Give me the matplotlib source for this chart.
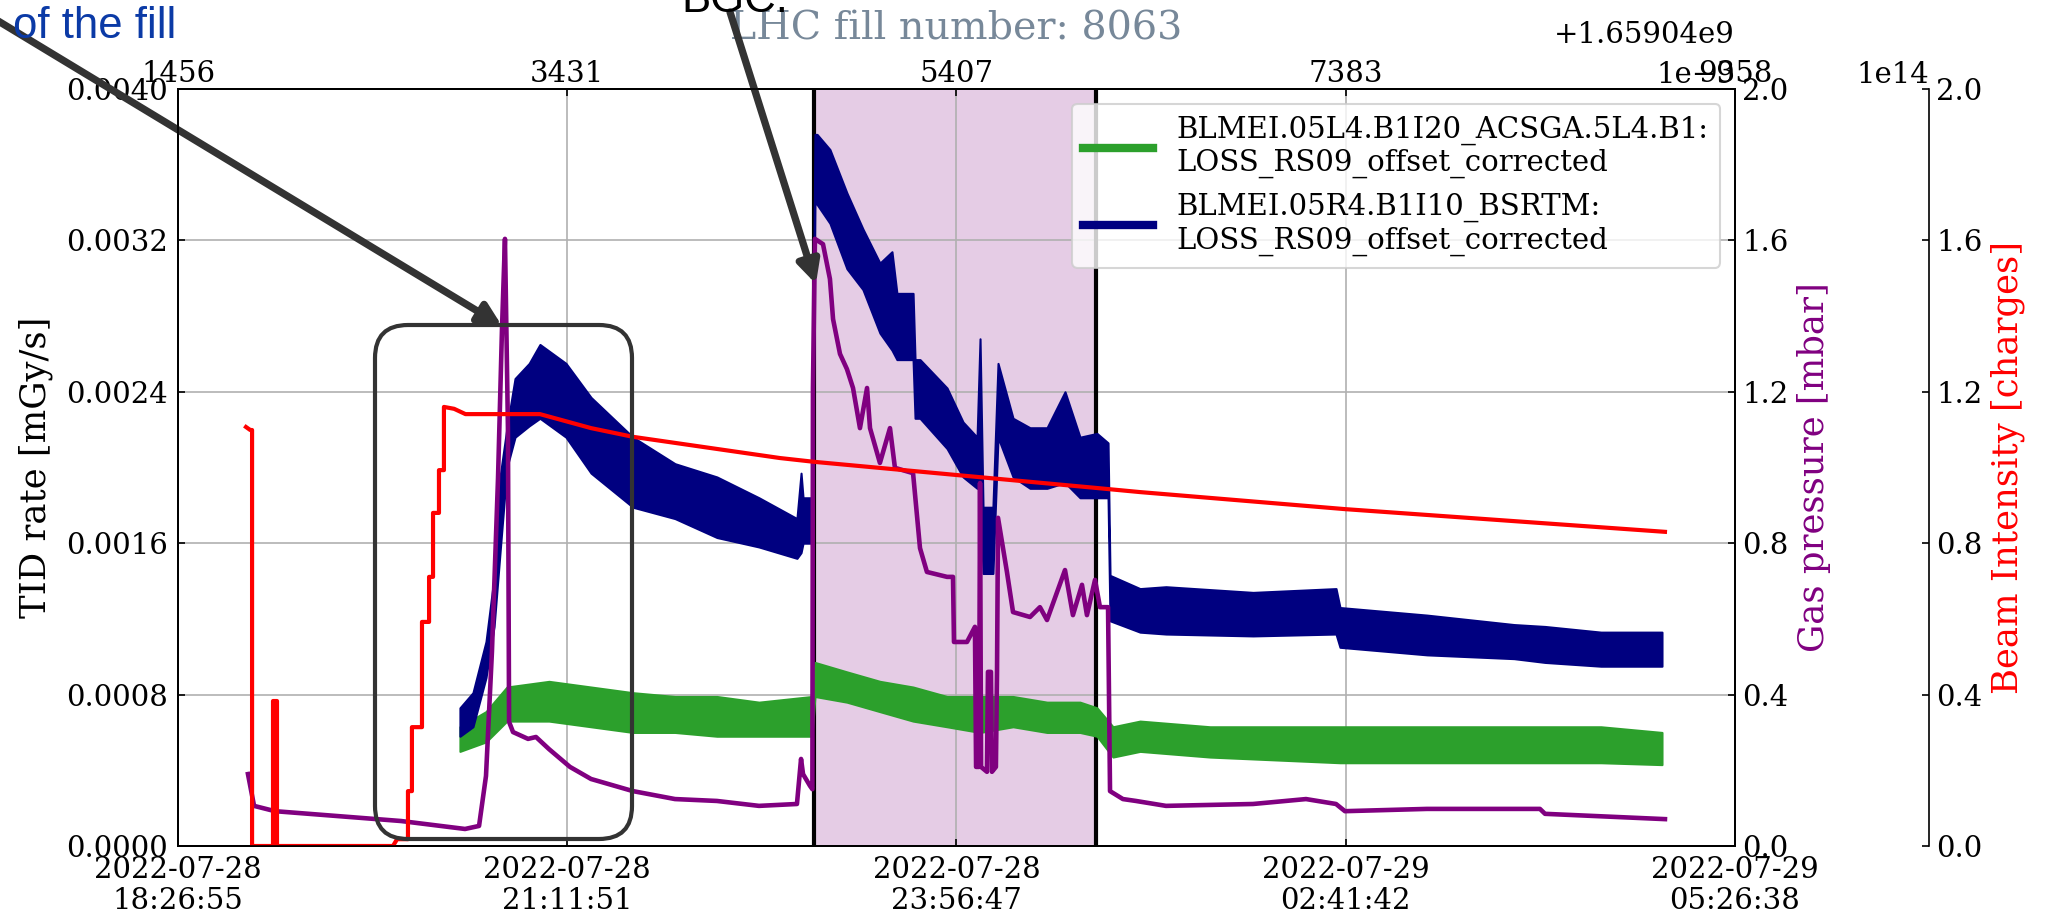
import numpy as np
import matplotlib.pyplot as plt
from matplotlib.lines import Line2D
from matplotlib.patches import FancyBboxPatch
from matplotlib.ticker import ScalarFormatter, FormatStrFormatter

plt.rcParams['font.family'] = 'DejaVu Serif'
plt.rcParams['font.size'] = 14

# time axis in hours after 2022-07-28 18:26:55
t_end = 10.9953
time_labels = ['2022-07-28\n18:26:55', '2022-07-28\n21:11:51', '2022-07-28\n23:56:47',
               '2022-07-29\n02:41:42', '2022-07-29\n05:26:38']
unix_ticks = [1659041456, 1659043431, 1659045407, 1659047383, 1659049358]
unix_offset = 1659040000
stable_start, stable_end = 4.491, 6.483

# BLM 05R4 (BSRTM) - band of the noisy signal, mGy/s
blue_t = [1.991, 2.083, 2.175, 2.232, 2.274, 2.323, 2.380, 2.480, 2.556, 2.740, 2.917, 3.213,
          3.510, 3.806, 4.103, 4.371, 4.400, 4.414, 4.477, 4.498, 4.513, 4.604, 4.724, 4.837,
          4.957, 5.042, 5.077, 5.191, 5.205, 5.240, 5.431, 5.544, 5.643, 5.664, 5.685, 5.755,
          5.791, 5.897, 6.017, 6.137, 6.264, 6.370, 6.490, 6.568, 6.582, 6.794, 6.977, 7.592,
          8.178, 8.206, 8.820, 9.435, 9.654, 10.049, 10.480]
blue_lo = [0.00058, 0.00063, 0.00089, 0.00116, 0.00155, 0.00200, 0.00216, 0.00222, 0.00226,
           0.00216, 0.00197, 0.00179, 0.00173, 0.00163, 0.00158, 0.00152, 0.00155, 0.00160,
           0.00160, 0.00340, 0.00339, 0.00329, 0.00305, 0.00294, 0.00271, 0.00262, 0.00257,
           0.00257, 0.00226, 0.00226, 0.00210, 0.00195, 0.00189, 0.00189, 0.00144, 0.00144,
           0.00216, 0.00195, 0.00189, 0.00189, 0.00192, 0.00184, 0.00184, 0.00184, 0.00119,
           0.00113, 0.00112, 0.00111, 0.00112, 0.00105, 0.00101, 0.00099, 0.00097, 0.00095,
           0.00095]
blue_hi = [0.00073, 0.00081, 0.00108, 0.00142, 0.00195, 0.00221, 0.00247, 0.00255, 0.00265,
           0.00255, 0.00237, 0.00216, 0.00202, 0.00195, 0.00184, 0.00173, 0.00197, 0.00184,
           0.00184, 0.00376, 0.00376, 0.00368, 0.00345, 0.00326, 0.00308, 0.00314, 0.00292,
           0.00292, 0.00257, 0.00257, 0.00242, 0.00224, 0.00216, 0.00268, 0.00179, 0.00179,
           0.00255, 0.00226, 0.00221, 0.00221, 0.00240, 0.00216, 0.00218, 0.00213, 0.00143,
           0.00136, 0.00137, 0.00134, 0.00136, 0.00126, 0.00122, 0.00117, 0.00116, 0.00113,
           0.00113]

# BLM 05L4 (ACSGA)
green_t = [1.991, 2.175, 2.323, 2.620, 2.917, 3.213, 3.510, 3.806, 4.103, 4.477, 4.498, 4.724,
           4.957, 5.191, 5.431, 5.664, 5.897, 6.137, 6.370, 6.490, 6.603, 6.794, 7.288, 8.206,
           10.049, 10.480]
green_lo = [0.00050, 0.00055, 0.00066, 0.00066, 0.00063, 0.00060, 0.00060, 0.00058, 0.00058,
            0.00058, 0.00079, 0.00076, 0.00071, 0.00066, 0.00063, 0.00060, 0.00063, 0.00060,
            0.00060, 0.00058, 0.00047, 0.00050, 0.00047, 0.00044, 0.00044, 0.00043]
green_hi = [0.00063, 0.00071, 0.00084, 0.00087, 0.00084, 0.00081, 0.00079, 0.00079, 0.00076,
            0.00079, 0.00097, 0.00092, 0.00087, 0.00084, 0.00079, 0.00079, 0.00079, 0.00076,
            0.00076, 0.00073, 0.00063, 0.00066, 0.00063, 0.00063, 0.00063, 0.00060]

# gas pressure, 1e-9 mbar
gas_t = [0.494, 0.537, 0.685, 1.130, 1.575, 2.027, 2.126, 2.175, 2.217, 2.260, 2.288, 2.309,
         2.330, 2.338, 2.366, 2.472, 2.528, 2.620, 2.768, 2.917, 3.213, 3.510, 3.806, 4.103,
         4.371, 4.400, 4.414, 4.463, 4.480, 4.484, 4.498, 4.555, 4.604, 4.626, 4.675, 4.724,
         4.767, 4.816, 4.866, 4.887, 4.957, 5.028, 5.063, 5.191, 5.240, 5.289, 5.431, 5.473,
         5.480, 5.572, 5.628, 5.636, 5.657, 5.664, 5.671, 5.713, 5.720, 5.741, 5.748, 5.776,
         5.784, 5.791, 5.854, 5.897, 6.017, 6.087, 6.137, 6.264, 6.320, 6.384, 6.419, 6.476,
         6.511, 6.568, 6.582, 6.673, 6.765, 6.977, 7.592, 7.966, 8.178, 8.241, 8.820, 9.618,
         9.654, 10.501]
gas_p = [0.190, 0.106, 0.092, 0.079, 0.066, 0.045, 0.053, 0.185, 0.513, 0.972, 1.366, 1.604,
         1.104, 0.328, 0.301, 0.283, 0.288, 0.256, 0.209, 0.177, 0.145, 0.124, 0.119, 0.106,
         0.111, 0.230, 0.190, 0.159, 0.150, 1.210, 1.604, 1.590, 1.498, 1.392, 1.300, 1.260,
         1.210, 1.104, 1.210, 1.104, 1.012, 1.104, 0.999, 0.985, 0.787, 0.724, 0.711, 0.711,
         0.539, 0.539, 0.579, 0.209, 0.209, 0.959, 0.209, 0.196, 0.460, 0.460, 0.196, 0.209,
         0.460, 0.867, 0.724, 0.618, 0.605, 0.631, 0.597, 0.729, 0.610, 0.690, 0.610, 0.703,
         0.631, 0.631, 0.145, 0.124, 0.119, 0.106, 0.111, 0.124, 0.111, 0.092, 0.098, 0.098,
         0.085, 0.071]

# beam intensity, 1e14 charges
beam_t = [0.480, 0.510, 0.523, 0.523, 0.671, 0.671, 0.699, 0.699, 1.518, 1.547, 1.624, 1.624,
          1.652, 1.652, 1.723, 1.723, 1.773, 1.773, 1.801, 1.801, 1.843, 1.843, 1.878, 1.878,
          1.950, 2.030, 2.556, 2.917, 3.213, 4.250, 4.491, 6.483, 6.794, 8.241, 10.501]
beam_i = [1.107, 1.099, 1.099, 0.0, 0.0, 0.383, 0.383, 0.0, 0.0, 0.018, 0.018, 0.145, 0.145,
          0.314, 0.314, 0.592, 0.592, 0.711, 0.711, 0.880, 0.880, 0.993, 0.993, 1.160, 1.155,
          1.141, 1.141, 1.104, 1.081, 1.025, 1.015, 0.946, 0.935, 0.890, 0.830]

label_green = 'BLMEI.05L4.B1I20_ACSGA.5L4.B1:\nLOSS_RS09_offset_corrected'
label_blue = 'BLMEI.05R4.B1I10_BSRTM:\nLOSS_RS09_offset_corrected'

W, H, DPI = 2047, 910, 150
fig = plt.figure(figsize=(W / DPI, H / DPI), dpi=DPI)
ax1 = fig.add_axes([0.08696, 0.07033, 0.7606, 0.8319])

ax1.axvspan(stable_start, stable_end, color='purple', alpha=0.2, lw=0, zorder=1)
ax1.axvline(stable_start, color='black', lw=2, zorder=2)
ax1.axvline(stable_end, color='black', lw=2, zorder=2)

ax1.fill_between(green_t, green_lo, green_hi, color='#2ca02c', lw=1, zorder=2)
ax1.fill_between(blue_t, blue_lo, blue_hi, color='navy', lw=1, zorder=2)

ax1.set_xlim(0, t_end)
ax1.set_xticks(np.linspace(0, t_end, 5))
ax1.set_xticklabels(time_labels, linespacing=1.1)
ax1.set_ylim(0, 0.004)
ax1.set_yticks(np.linspace(0, 0.004, 6))
ax1.yaxis.set_major_formatter(FormatStrFormatter('%.4f'))
ax1.set_ylabel('TID rate [mGy/s]', fontsize=17, labelpad=6)
ax1.tick_params(direction='in', pad=5)
ax1.grid(True)

leg = ax1.legend([Line2D([], [], color='#2ca02c', lw=4), Line2D([], [], color='navy', lw=4)],
                 [label_green, label_blue], loc='upper right', fontsize=14,
                 framealpha=0.8, handlelength=2.4)

ax1.set_title('LHC fill number: 8063', color='lightslategray', fontsize=19,
              y=1 + 49 / 757, pad=0)

# raw unix time on top
ax_top = ax1.twiny()
ax_top.set_xlim(unix_ticks[0], unix_ticks[-1])
ax_top.set_xticks(unix_ticks)
ax_top.xaxis.set_major_formatter(ScalarFormatter(useOffset=unix_offset))
ax_top.xaxis.get_offset_text().set_visible(False)
ax_top.tick_params(direction='in', pad=0.5)
ax_top.text(1.0, 1 + 46 / 757, '+' + ScalarFormatter().format_data(unix_offset),
            transform=ax_top.transAxes, ha='right', va='baseline', fontsize=14)

ax2 = ax1.twinx()
ax2.plot(gas_t, np.array(gas_p) * 1e-9, color='purple', lw=2.2)
ax2.set_ylim(0, 2e-9)
ax2.set_yticks(np.linspace(0, 2e-9, 6))
ax2.set_ylabel('Gas pressure [mbar]', color='purple', fontsize=17)
ax2.tick_params(direction='in')

ax3 = ax1.twinx()
ax3.spines['right'].set_position(('axes', 1.1246))
ax3.plot(beam_t, np.array(beam_i) * 1e14, color='red', lw=2)
ax3.set_ylim(0, 2e14)
ax3.set_yticks(np.linspace(0, 2e14, 6))
ax3.set_ylabel('Beam Intensity [charges]', color='red', fontsize=17)
ax3.tick_params(direction='in')
ax3.yaxis.get_offset_text().set_x(1.1246)

# slide annotations on top of the plot
fig.text(13 / W, 1 - 38 / H, 'of the fill', fontsize=21, color='#0b3aa6',
         family='Liberation Sans', va='baseline')
fig.text(681 / W, 1 - 12 / H, 'BGC.', fontsize=21, color='black',
         family='Liberation Sans', va='baseline')

arrow = dict(arrowstyle='-|>', lw=3.5, color='#333333', mutation_scale=22,
             shrinkA=0, shrinkB=0)
ax2.annotate('', xy=(2.288, 1.374e-9), xycoords='data', xytext=(-20, 900),
             textcoords='figure pixels', arrowprops=arrow, annotation_clip=False)
ax2.annotate('', xy=(4.505, 1.485e-9), xycoords='data', xytext=(730, 898),
             textcoords='figure pixels', arrowprops=arrow, annotation_clip=False)

box = FancyBboxPatch((375 / DPI, (H - 839) / DPI), 257 / DPI, 514 / DPI,
                     boxstyle='round,pad=0,rounding_size=0.22', transform=fig.dpi_scale_trans,
                     fill=False, ec='#333333', lw=2)
fig.add_artist(box)

fig.savefig('out.png', dpi=DPI)
